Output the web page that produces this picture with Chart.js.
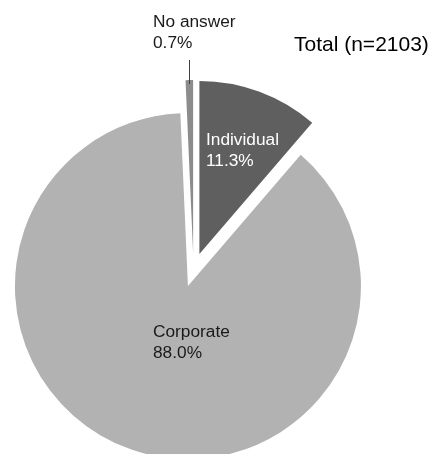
<!DOCTYPE html>
<html>
<head>
<meta charset="utf-8">
<script src="https://cdn.jsdelivr.net/npm/chart.js@4.4.1/dist/chart.umd.min.js"></script>
<style>
    body { margin: 0; background: #fff; }
    #wrap { width: 433px; height: 454px; }
</style>
</head>
<body>
<div id="wrap"><canvas id="myChart-total"></canvas></div>
<script>
var categories = ['Individual', 'Corporate', 'No answer'];
var shares = [11.3, 88.0, 0.7];
var sample_size = 2103;

var slice_colors = ['#5f5f5f', '#b2b2b2', '#8c8c8c'];
var explode = [17, 17, 17];
// left x, first baseline y, text colour for each slice label
var label_pos = [[206, 145, '#ffffff'], [153, 337, '#1a1a1a'], [153, 27, '#1a1a1a']];

// pie whose slices are all pulled out from the centre by the same distance
class ExplodedPie extends Chart.PieController {
    draw() {
        var ctx = this.chart.ctx;
        var arcs = this._cachedMeta.data;
        for (let i = 0; i < arcs.length; i++) {
            var arc = arcs[i];
            var mid = (arc.startAngle + arc.endAngle) / 2;
            ctx.save();
            ctx.translate(Math.cos(mid) * explode[i], Math.sin(mid) * explode[i]);
            arc.draw(ctx, this.chart.chartArea);
            ctx.restore();
        }
    }
}
ExplodedPie.id = 'explodedPie';
ExplodedPie.defaults = Chart.PieController.defaults;
Chart.register(ExplodedPie);

var pieLabels = {
    id: 'pieLabels',
    afterDatasetsDraw(chart) {
        var c = chart.ctx;
        var arcs = chart.getDatasetMeta(0).data;
        c.save();
        c.font = '17.3px "Liberation Sans", Arial, sans-serif';
        c.textAlign = 'left';
        c.textBaseline = 'alphabetic';
        for (let i = 0; i < arcs.length; i++) {
            c.fillStyle = label_pos[i][2];
            c.fillText(categories[i], label_pos[i][0], label_pos[i][1]);
            c.fillText(shares[i].toFixed(1) + '%', label_pos[i][0], label_pos[i][1] + 20.5);
        }

        // leader line down to the thin slice
        var na = arcs[2];
        var mid = (na.startAngle + na.endAngle) / 2;
        var lx = Math.round(na.x + Math.cos(mid) * (explode[2] + na.outerRadius)) + 0.5;
        var ly = na.y + Math.sin(mid) * (explode[2] + na.outerRadius - 4);
        c.strokeStyle = '#404040';
        c.lineWidth = 1;
        c.beginPath();
        c.moveTo(lx, 60);
        c.lineTo(lx, ly);
        c.stroke();

        c.font = '21px "Liberation Sans", Arial, sans-serif';
        c.fillStyle = '#000000';
        c.fillText('Total (n=' + sample_size + ')', 294, 51);
        c.restore();
    }
};

var ctx = document.getElementById('myChart-total').getContext('2d');
var chart = new Chart(ctx, {
    type: 'explodedPie',
    data: {
        labels: categories,
        datasets: [{
            data: shares,
            backgroundColor: slice_colors,
            borderWidth: 0
        }]
    },
    options: {
        responsive: true,
        maintainAspectRatio: false,
        animation: false,
        events: [],
        radius: 173,
        layout: { padding: { left: 0, right: 46, top: 86, bottom: 0 } },
        plugins: {
            legend: { display: false },
            tooltip: { enabled: false }
        }
    },
    plugins: [pieLabels]
});
</script>
</body>
</html>
